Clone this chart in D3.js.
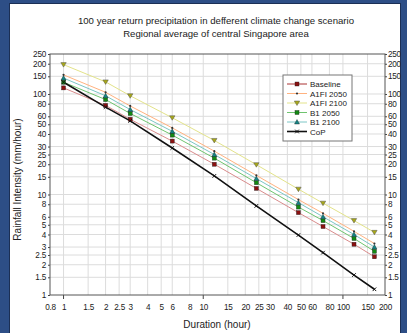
<!DOCTYPE html>
<html>
<head>
<meta charset="utf-8">
<script src="https://cdn.jsdelivr.net/npm/d3@7"></script>
<style>
  html, body { margin: 0; padding: 0; background: #2d4e86; }
  svg { display: block; }
  text { font-family: "Liberation Sans", Arial, sans-serif; fill: #222; }
</style>
</head>
<body>
<svg id="chart" width="407" height="333"></svg>
<script>
// durations (hour)
const durations = [1, 2, 3, 6, 12, 24, 48, 72, 120, 168];

// rainfall intensity (mm/hour)
const baseline = [115, 77, 56, 34, 20, 11.5, 6.6, 4.8, 3.2, 2.4];
const a1fi2050 = [155, 104, 76, 46, 27, 15.5, 8.9, 6.5, 4.3, 3.25];
const a1fi2100 = [196, 132, 96, 58, 34.5, 19.8, 11.3, 8.2, 5.5, 4.2];
const b12050 = [131, 88, 64, 39, 23, 13.1, 7.5, 5.5, 3.65, 2.72];
const b12100 = [144, 96, 70, 42.5, 25, 14.4, 8.3, 6.0, 4.0, 3.0];
const cop = [131, 74, 54, 29, 15.3, 7.7, 3.95, 2.64, 1.58, 1.14];

const seriesNames = ["Baseline", "A1FI 2050", "A1FI 2100", "B1 2050", "B1 2100", "CoP"];

const xTicks = [0.8, 1, 1.5, 2, 2.5, 3, 4, 5, 6, 8, 10, 15, 20, 25, 30, 40, 50, 60, 80, 100, 150, 200];
const yTicks = [1, 1.5, 2, 2.5, 3, 4, 5, 6, 8, 10, 15, 20, 25, 30, 40, 50, 60, 80, 100, 150, 200, 250];

const series = [
  { name: seriesNames[0], values: baseline, line: "#d98c8c", mark: "square", fill: "#8b1010", lw: 1 },
  { name: seriesNames[1], values: a1fi2050, line: "#ffb27f", mark: "dot", fill: "#333", lw: 1 },
  { name: seriesNames[2], values: a1fi2100, line: "#e3e38a", mark: "tridown", fill: "#a8a818", lw: 1 },
  { name: seriesNames[3], values: b12050, line: "#6fc46f", mark: "square", fill: "#138a13", lw: 1 },
  { name: seriesNames[4], values: b12100, line: "#7cc6c6", mark: "triup", fill: "#138585", lw: 1 },
  { name: seriesNames[5], values: cop, line: "#111", mark: "cross", fill: "#111", lw: 1.6 }
];

const svg = d3.select("#chart");

// white panel
svg.append("rect").attr("x", 9.5).attr("y", 3.5).attr("width", 391).attr("height", 335)
  .attr("fill", "#fff").attr("stroke", "#1b2f55").attr("stroke-width", 1);

const m = { left: 50, right: 385, top: 54, bottom: 295 };

const x = d3.scaleLog().domain([0.8, 200]).range([m.left, m.right]);
const y = d3.scaleLog().domain([1, 250]).range([m.bottom, m.top]);

// titles
svg.append("text").attr("x", 216).attr("y", 24).attr("text-anchor", "middle")
  .style("font-size", "9.6px").text("100 year return precipitation in defferent climate change scenario");
svg.append("text").attr("x", 216).attr("y", 37).attr("text-anchor", "middle")
  .style("font-size", "9.6px").text("Regional average of central Singapore area");

// grid
const grid = svg.append("g");
grid.selectAll(".gx").data(xTicks.filter(d => d > 0.8 && d < 200)).enter().append("line")
  .attr("x1", d => x(d)).attr("x2", d => x(d)).attr("y1", m.top).attr("y2", m.bottom)
  .attr("stroke", "#dcdcdc").attr("stroke-width", 1);
grid.selectAll(".gy").data(yTicks.filter(d => d > 1 && d < 250)).enter().append("line")
  .attr("x1", m.left).attr("x2", m.right).attr("y1", d => y(d)).attr("y2", d => y(d))
  .attr("stroke", "#dcdcdc").attr("stroke-width", 1);

// axes
const fmt = d => String(d);
const yl = svg.append("g").attr("transform", `translate(${m.left},0)`)
  .call(d3.axisLeft(y).tickValues(yTicks).tickFormat(fmt).tickSize(2).tickPadding(2));
const yr = svg.append("g").attr("transform", `translate(${m.right},0)`)
  .call(d3.axisRight(y).tickValues(yTicks).tickFormat(fmt).tickSize(2).tickPadding(1));
const xb = svg.append("g").attr("transform", `translate(0,${m.bottom})`)
  .call(d3.axisBottom(x).tickValues(xTicks).tickFormat(fmt).tickSize(0).tickPadding(9));
[yl, yr, xb].forEach(g => {
  g.select(".domain").remove();
  g.selectAll("text").style("font-size", "8.2px").style("letter-spacing", "-0.25px").attr("fill", "#333");
  g.selectAll("line").attr("stroke", "#444");
});
// major ticks on bottom axis
svg.append("g").selectAll("line").data([1, 10, 100]).enter().append("line")
  .attr("x1", d => x(d)).attr("x2", d => x(d)).attr("y1", m.bottom).attr("y2", m.bottom + 4)
  .attr("stroke", "#444");

// frame
svg.append("rect").attr("x", m.left).attr("y", m.top)
  .attr("width", m.right - m.left).attr("height", m.bottom - m.top)
  .attr("fill", "none").attr("stroke", "#555").attr("stroke-width", 1);

// axis titles
svg.append("text").attr("transform", `translate(21,${(m.top + m.bottom) / 2 + 5}) rotate(-90)`)
  .attr("text-anchor", "middle").style("font-size", "10px").text("Rainfall Intensity (mm/hour)");
svg.append("text").attr("x", 217).attr("y", 328).attr("text-anchor", "middle")
  .style("font-size", "10px").text("Duration (hour)");

// marker drawing
function drawMark(g, type, fill, cx, cy) {
  if (type === "square") {
    g.append("rect").attr("x", cx - 2).attr("y", cy - 2).attr("width", 4).attr("height", 4)
      .attr("fill", fill).attr("stroke", "#222").attr("stroke-width", 0.4);
  } else if (type === "dot") {
    g.append("circle").attr("cx", cx).attr("cy", cy).attr("r", 1.1).attr("fill", fill);
  } else if (type === "tridown") {
    g.append("path").attr("d", `M${cx - 2.7},${cy - 2}L${cx + 2.7},${cy - 2}L${cx},${cy + 2.5}Z`)
      .attr("fill", fill).attr("stroke", "#555").attr("stroke-width", 0.5);
  } else if (type === "triup") {
    g.append("path").attr("d", `M${cx - 2.5},${cy + 2}L${cx + 2.5},${cy + 2}L${cx},${cy - 2.5}Z`)
      .attr("fill", fill).attr("stroke", "#222").attr("stroke-width", 0.4);
  } else if (type === "cross") {
    g.append("path").attr("d", `M${cx - 1.8},${cy - 1.8}L${cx + 1.8},${cy + 1.8}M${cx - 1.8},${cy + 1.8}L${cx + 1.8},${cy - 1.8}`)
      .attr("stroke", fill).attr("stroke-width", 1);
  }
}

const line = d3.line().x(d => x(d[0])).y(d => y(d[1]));
const plot = svg.append("g");
series.forEach(s => {
  const pts = durations.map((d, i) => [d, s.values[i]]);
  plot.append("path").datum(pts).attr("d", line)
    .attr("fill", "none").attr("stroke", s.line).attr("stroke-width", s.lw);
});
series.forEach(s => {
  const g = plot.append("g");
  durations.forEach((d, i) => drawMark(g, s.mark, s.fill, x(d), y(s.values[i])));
});

// legend
const lg = svg.append("g").attr("transform", "translate(283,75)");
lg.append("rect").attr("width", 69).attr("height", 66).attr("fill", "#fff")
  .attr("stroke", "#777").attr("stroke-width", 1);
series.forEach((s, i) => {
  const yy = 9 + i * 9.5;
  const col = s.name === "Baseline" ? "#a33" : s.line;
  lg.append("line").attr("x1", 4).attr("x2", 24).attr("y1", yy).attr("y2", yy)
    .attr("stroke", col).attr("stroke-width", s.lw);
  drawMark(lg, s.mark, s.fill, 14, yy);
  lg.append("text").attr("x", 27).attr("y", yy + 3).style("font-size", "8px").text(s.name);
});
</script>
</body>
</html>
